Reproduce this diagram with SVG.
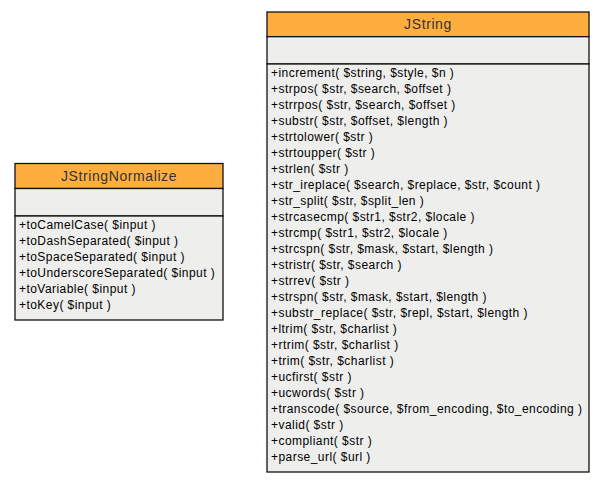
<svg xmlns="http://www.w3.org/2000/svg" width="605" height="483" viewBox="0 0 605 483">
<style>
.hd{fill:#feae3e;stroke:#111;stroke-width:1.3}
.bd{fill:#eeeeec;stroke:#111;stroke-width:1.3}
.t{font-family:"Liberation Sans",Arial,sans-serif;font-size:12px;letter-spacing:0.45px;fill:#000}
.ti{font-family:"Liberation Sans",Arial,sans-serif;font-size:14px;letter-spacing:0.6px;fill:#333;text-anchor:middle}
</style>
<rect width="605" height="483" fill="#fff"/>
<g id="connectors"></g>
<g id="JStringNormalize">
<rect class="hd" x="15" y="163.5" width="208" height="25"/>
<rect class="bd" x="15" y="188.5" width="208" height="27.5"/>
<rect class="bd" x="15" y="216" width="208" height="104"/>
<text class="ti" x="119" y="181">JStringNormalize</text>
<text class="t" x="19" y="229">+toCamelCase( $input )</text>
<text class="t" x="19" y="245">+toDashSeparated( $input )</text>
<text class="t" x="19" y="261">+toSpaceSeparated( $input )</text>
<text class="t" x="19" y="277">+toUnderscoreSeparated( $input )</text>
<text class="t" x="19" y="293">+toVariable( $input )</text>
<text class="t" x="19" y="309">+toKey( $input )</text>
</g>
<g id="JString">
<rect class="hd" x="267" y="12" width="322" height="24.7"/>
<rect class="bd" x="267" y="36.7" width="322" height="27.3"/>
<rect class="bd" x="267" y="64" width="322" height="408"/>
<text class="ti" x="428" y="29">JString</text>
<text class="t" x="271" y="77">+increment( $string, $style, $n )</text>
<text class="t" x="271" y="93">+strpos( $str, $search, $offset )</text>
<text class="t" x="271" y="109">+strrpos( $str, $search, $offset )</text>
<text class="t" x="271" y="125">+substr( $str, $offset, $length )</text>
<text class="t" x="271" y="141">+strtolower( $str )</text>
<text class="t" x="271" y="157">+strtoupper( $str )</text>
<text class="t" x="271" y="173">+strlen( $str )</text>
<text class="t" x="271" y="189">+str_ireplace( $search, $replace, $str, $count )</text>
<text class="t" x="271" y="205">+str_split( $str, $split_len )</text>
<text class="t" x="271" y="221">+strcasecmp( $str1, $str2, $locale )</text>
<text class="t" x="271" y="237">+strcmp( $str1, $str2, $locale )</text>
<text class="t" x="271" y="253">+strcspn( $str, $mask, $start, $length )</text>
<text class="t" x="271" y="269">+stristr( $str, $search )</text>
<text class="t" x="271" y="285">+strrev( $str )</text>
<text class="t" x="271" y="301">+strspn( $str, $mask, $start, $length )</text>
<text class="t" x="271" y="317">+substr_replace( $str, $repl, $start, $length )</text>
<text class="t" x="271" y="333">+ltrim( $str, $charlist )</text>
<text class="t" x="271" y="349">+rtrim( $str, $charlist )</text>
<text class="t" x="271" y="365">+trim( $str, $charlist )</text>
<text class="t" x="271" y="381">+ucfirst( $str )</text>
<text class="t" x="271" y="397">+ucwords( $str )</text>
<text class="t" x="271" y="413">+transcode( $source, $from_encoding, $to_encoding )</text>
<text class="t" x="271" y="429">+valid( $str )</text>
<text class="t" x="271" y="445">+compliant( $str )</text>
<text class="t" x="271" y="461">+parse_url( $url )</text>
</g>
</svg>
